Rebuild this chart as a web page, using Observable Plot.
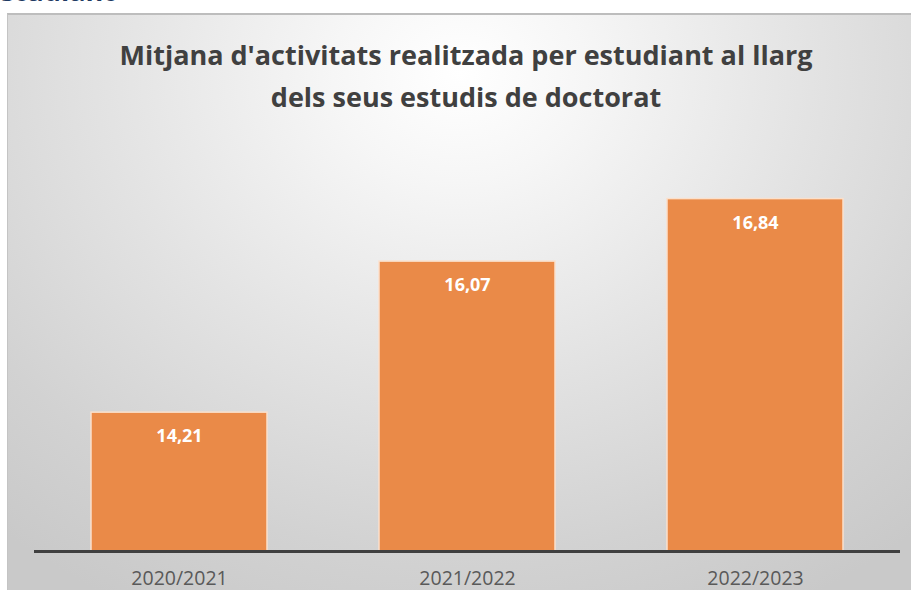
<!DOCTYPE html>
<html>
<head>
<meta charset="utf-8">
<script src="https://cdn.jsdelivr.net/npm/d3@7"></script>
<script src="https://cdn.jsdelivr.net/npm/@observablehq/plot@0.6"></script>
<style>
  html, body { margin: 0; padding: 0; width: 911px; height: 590px; overflow: hidden; background: #ffffff; }
  body { position: relative; font-family: "Open Sans", sans-serif; }
  #heading { position: absolute; left: -15px; top: -24px; font-size: 27px; line-height: 30px; font-weight: 700; color: #1f3a63; white-space: nowrap; }
  #frame { position: absolute; left: 7px; top: 13px; width: 904px; height: 577px; box-sizing: border-box;
    border-top: 2px solid #bdbdbd; border-left: 1px solid #c4c4c4;
    background: radial-gradient(ellipse 78% 105% at 50% 10%, #ffffff 0%, #f6f6f6 18%, #e3e3e3 50%, #d2d2d2 80%, #c9c9c9 100%); }
  #title { position: absolute; left: 20px; width: 892px; top: 34px; text-align: center; font-size: 27px; font-weight: 700;
    color: #404040; line-height: 42px; }
  #chart { position: absolute; left: 0; top: 120px; }
</style>
</head>
<body>
<div id="heading">estudiant</div>
<div id="frame"></div>
<div id="title">Mitjana d'activitats realitzada per estudiant al llarg<br>dels seus estudis de doctorat</div>
<div id="chart"></div>
<script>
const categories = ["2020/2021", "2021/2022", "2022/2023"];
const values = [14.21, 16.07, 16.84];
const axisMin = 12.5;
const axisMax = 17.5;

const data = categories.map((c, i) => ({ year: c, value: values[i] }));
const fmt = v => v.toFixed(2).replace(".", ",");

const plot = Plot.plot({
  width: 911,
  height: 470,
  marginLeft: 34,
  marginRight: 11,
  marginTop: 25,
  marginBottom: 39,
  style: { background: "transparent", fontFamily: "'Open Sans', sans-serif", overflow: "visible" },
  x: { domain: categories, paddingInner: 0.39, paddingOuter: 0.195, label: null },
  y: { domain: [axisMin, axisMax], axis: null },
  marks: [
    Plot.barY(data, { x: "year", y1: axisMin, y2: "value", fill: "#ea8a48", stroke: "#fbe0cb", strokeWidth: 1.5 }),
    Plot.text(data, { x: "year", y: "value", text: d => fmt(d.value), dy: 24, fill: "#ffffff", fontSize: 18, fontWeight: 700 }),
    Plot.ruleY([axisMin], { stroke: "#404040", strokeWidth: 3 }),
    Plot.axisX({ tickSize: 0, tickPadding: 20, fontSize: 19.5, color: "#595959", label: null })
  ]
});
document.getElementById("chart").appendChild(plot);
</script>
</body>
</html>
